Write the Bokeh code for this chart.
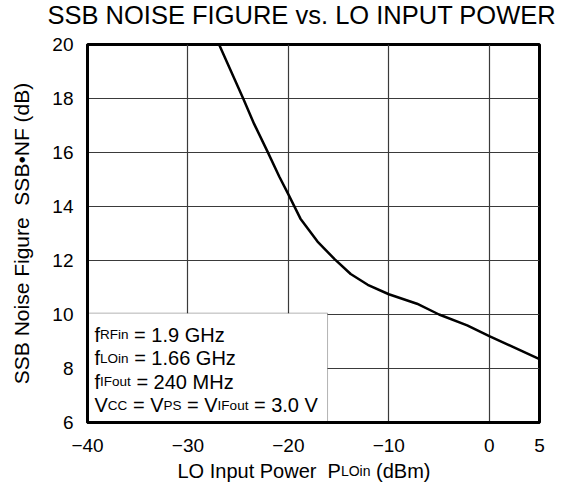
from bokeh.plotting import figure
from bokeh.layouts import column
from bokeh.models import Label, BoxAnnotation, FixedTicker, Range1d, Title
from bokeh.embed import file_html
from bokeh.resources import INLINE

# ---------------- data ----------------
lo_power_dbm = [-26.9, -25.7, -24.5, -23.4, -22.1, -20.9, -20.0, -18.8, -17.1,
                -15.4, -13.8, -12.1, -10.0, -7.2, -5.0, -2.2, 0.0, 5.0]
ssb_nf_db = [20.0, 19.0, 18.0, 17.05, 16.05, 15.1, 14.45, 13.55, 12.7,
             12.05, 11.5, 11.1, 10.75, 10.4, 10.0, 9.6, 9.2, 8.35]

x_ticks = [-40, -30, -20, -10, 0, 5]
x_tick_labels = ["\u221240", "\u221230", "\u221220", "\u221210", "0", "5"]
y_ticks = [6, 8, 10, 12, 14, 16, 18, 20]

title_text = "SSB NOISE FIGURE vs. LO INPUT POWER"
y_label_text = "SSB Noise Figure\u00a0\u00a0SSB\u2022NF (dB)"
x_label_parts = [("LO Input Power  P", "main"), ("LOin", "sub"), (" (dBm)", "main")]
cond_lines = [
    [("f", "main"), ("RFin", "sub"), (" = 1.9 GHz", "main")],
    [("f", "main"), ("LOin", "sub"), (" = 1.66 GHz", "main")],
    [("f", "main"), ("IFout", "sub"), (" = 240 MHz", "main")],
    [("V", "main"), ("CC", "sub"), (" = V", "main"), ("PS", "sub"),
     (" = V", "main"), ("IFout", "sub"), (" = 3.0 V", "main")],
]
cond_box = dict(left=-40, right=-16.1, bottom=6, top=10.05)

# ---------------- styling helpers ----------------
FONT = "Liberation Sans"
CW = {' ': 278, '=': 584, '.': 278, 'f': 278, 'R': 722, 'F': 611, 'i': 222,
      'n': 556, 'L': 556, 'O': 778, 'I': 278, 'o': 556, 'u': 556, 't': 278,
      'G': 778, 'H': 722, 'z': 500, 'M': 833, 'V': 667, 'C': 722, 'P': 667,
      'S': 667, 'p': 556, 'w': 722, 'e': 556, 'r': 333, '(': 333, ')': 333,
      'd': 556, 'B': 667, 'm': 833}
for d in "0123456789":
    CW[d] = 556


def tw(s, size):
    return sum(CW.get(c, 556) for c in s) * size / 1000.0


def put_parts(fig, parts, x0, y0, dx, dy, main, sub):
    off = dx
    for txt, kind in parts:
        size = main if kind == "main" else sub
        lead = len(txt) - len(txt.lstrip(" "))
        off += tw(" " * lead, size)
        core = txt.strip(" ")
        fig.add_layout(Label(x=x0, y=y0, x_offset=off, y_offset=dy,
                             text=core.replace(" ", "\u00a0"),
                             text_font=FONT, text_font_size=f"{size}px",
                             text_baseline="alphabetic", text_align="left",
                             text_color="black"))
        off += tw(core, size)
        trail = len(txt) - len(txt.rstrip(" "))
        off += tw(" " * trail, size)


W = 587
H_STRIP = 28
H_MAIN = 489 - H_STRIP
BL, BR = 87, 48
TOP = 43
FRAME_H = 379

x_range = Range1d(-40, 5)

# ---- main plot ----
p = figure(width=W, height=H_MAIN, output_backend="svg", toolbar_location=None,
           x_range=x_range, y_range=Range1d(6, 20),
           min_border_left=BL, min_border_right=BR, min_border_top=TOP,
           min_border_bottom=H_MAIN - TOP - FRAME_H)
p.background_fill_color = "white"
p.border_fill_color = "white"
p.outline_line_color = "black"
p.outline_line_width = 3
p.title.text = ""

# small spacer next to the frame, then the real title above it
p.add_layout(Title(text="\u00a0", text_font=FONT, text_font_size="8px",
                   standoff=2), "above")
p.add_layout(Title(text=title_text, text_font=FONT, text_font_size="25.5px",
                   text_font_style="normal", text_color="black", align="left",
                   vertical_align="top", offset=-40, standoff=1), "above")

for ax in (p.xaxis[0], p.yaxis[0]):
    ax.axis_line_color = "black"
    ax.axis_line_width = 3
    ax.major_tick_line_color = None
    ax.minor_tick_line_color = None
    ax.major_tick_out = 0
    ax.major_tick_in = 0
    ax.major_label_text_font = FONT
    ax.major_label_text_font_size = "19px"
    ax.major_label_text_color = "black"

p.xaxis.ticker = FixedTicker(ticks=x_ticks)
p.xaxis.major_label_overrides = {t: l for t, l in zip(x_ticks, x_tick_labels)}
p.xaxis.major_label_standoff = 16
p.yaxis.ticker = FixedTicker(ticks=y_ticks)
p.yaxis.major_label_standoff = 14
p.yaxis.axis_label = y_label_text
p.yaxis.axis_label_text_font = FONT
p.yaxis.axis_label_text_font_style = "normal"
p.yaxis.axis_label_text_font_size = "21px"
p.yaxis.axis_label_text_color = "black"
p.yaxis.axis_label_standoff = 16

for g in (p.xgrid[0], p.ygrid[0]):
    g.grid_line_color = "#3a3a3a"
    g.grid_line_width = 1.2
p.xgrid.ticker = FixedTicker(ticks=x_ticks)
p.ygrid.ticker = FixedTicker(ticks=y_ticks)

box = BoxAnnotation(fill_color="white", fill_alpha=1.0, line_color="black",
                    line_width=1, level="underlay", **cond_box)
p.add_layout(box)

p.line(lo_power_dbm, ssb_nf_db, line_color="black", line_width=2.5,
       line_join="round")

# conditions text inside box (offsets from the box's bottom-left corner)
line_dy = [88, 64.5, 41, 17.5]
for parts, dy in zip(cond_lines, line_dy):
    put_parts(p, parts, cond_box["left"], cond_box["bottom"], 7, dy, 20, 13.5)

# ---- bottom strip: x-axis label with subscript ----
bot = figure(width=W, height=H_STRIP, output_backend="svg",
             toolbar_location=None, x_range=x_range, y_range=Range1d(0, 1),
             min_border_left=BL, min_border_right=BR, min_border_top=0,
             min_border_bottom=0, x_axis_location=None, y_axis_location=None)
bot.grid.visible = False
bot.outline_line_color = None
bot.background_fill_color = "white"
bot.border_fill_color = "white"
put_parts(bot, x_label_parts, -40, 0, 90, 19, 20, 14)

layout = column(p, bot, spacing=0)
open("out.html", "w").write(file_html(layout, INLINE))
